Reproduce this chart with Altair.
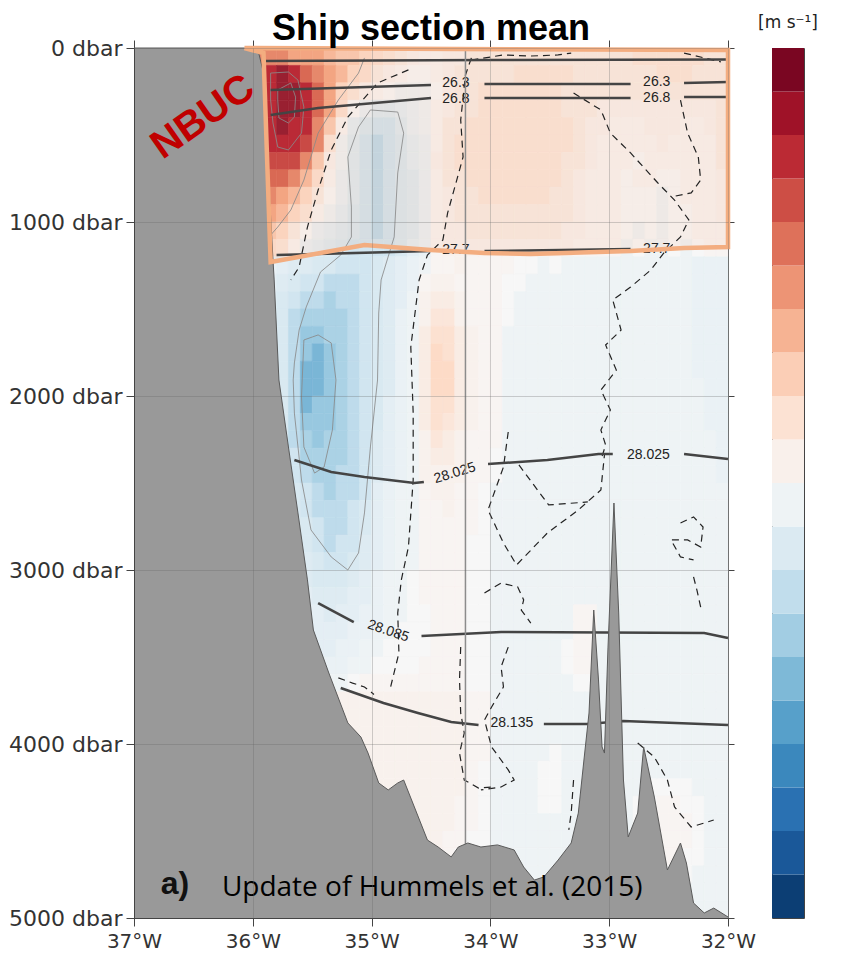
import altair as alt
import pandas as pd

# ---------------- axis / colour-bar values ----------------
lon_ticks = [-37, -36, -35, -34, -33, -32]
depth_ticks = [0, 1000, 2000, 3000, 4000, 5000]
cbar_ticks = [-0.5, -0.4, -0.3, -0.2, -0.1, 0, 0.1, 0.2, 0.3, 0.4, 0.5]
cbar_edges = [-0.5, -0.45, -0.4, -0.35, -0.3, -0.25, -0.2, -0.15, -0.1, -0.05, 0.0,
              0.05, 0.1, 0.15, 0.2, 0.25, 0.3, 0.35, 0.4, 0.45, 0.5]
# diverging palette stops (blue = negative, red = positive)
cmap_stops = [-0.5, -0.4, -0.3, -0.2, -0.1, 0.0, 0.1, 0.2, 0.3, 0.4, 0.5]
cmap_colors = ["#053061", "#2166ac", "#4393c3", "#92c5de", "#d1e5f0", "#f7f7f7",
               "#fddbc7", "#f4a582", "#d6604d", "#b2182b", "#67001f"]

# ---------------- velocity field ----------------
# grid: columns 0.1 deg wide starting at 36.0W, rows 100 dbar deep starting at 0
grid_lon_west = -36.0
grid_dlon = 0.1
grid_ddep = 100
vel_code = {
    "F": 0.5, "E": 0.45, "D": 0.4, "C": 0.35, "B": 0.3, "A": 0.25, "9": 0.2, "8": 0.16,
    "7": 0.13, "6": 0.1, "5": 0.08, "4": 0.06, "3": 0.04, "2": 0.02, "1": 0.01, "0": 0.0,
    "a": -0.025, "b": -0.035, "c": -0.05, "d": -0.065, "e": -0.08, "f": -0.1, "g": -0.13,
    "h": -0.16, "i": -0.19, "j": -0.23,
}
vel_rows = [
    "AAA9998776 5432112233 3333333333 3344444433",
    "DDEDBA9865 3210012333 3344444333 3333444333",
    "DDEEDB9642 10aaa02334 4444443333 3333333333",
    "DDEEDB950b ddcba12334 4444443332 2222222223",
    "DDEDDA71ce ffdba13344 4444444322 1112221123",
    "DDDDCA4adf gfecb13444 4444444321 1111211113",
    "CCCCA72adf gfecb23444 4444443321 1101111113",
    "BBBA851bdf gfedb13344 4444443211 1011001112",
    "AA98630bdf gfedb12334 4444433211 1000a01112",
    "998641acef gfedb12333 3333333211 1000a00112",
    "77630bcdef gfedb12233 3333332211 10a0a00111",
    "5541bcdeff ffecb12222 2222222111 1a0aa0a011",
    "bbcddeefff edcba11211 1100a0aaaa aaaaaaabbb",
    "ccdeffgggf edcb122111 100aaaaaaa aaaaaaabbb",
    "ccefgghggf edca233211 10aaaaaaaa aaaaaaabbb",
    "cceghhhhgf edba244211 10aaaaaaaa aaaaaaabbb",
    "ccegiihhgf edba355321 1aaaaaaaaa aaaaaaabbb",
    "ccegijihgf edba365321 1aaaaaaaaa aaaaaaabbb",
    "ccegjjihgf edba366321 1aaaaaaaaa aaaaaaabbb",
    "ccegjjihgf edba366321 1aaaaaaaaa aaaaaaaabb",
    "ccegjiihgf ecba355321 1aaaaaaaaa aaaaaaaabb",
    "ccegiiihgf ecba354321 1aaaaaaaaa aaaaaaaabb",
    "cceghihhgf dcba243211 1aaaaaaaaa aaaaaaaaab",
    "ccefhhhhgf dcba233211 0aaaaaaaaa aaaaaaaaab",
    "ccdfghhggf dcba222211 0aaaaaaaaa aaaaaaaaab",
    "cccefghggf cbaa122110 aaaaaaaaaa aaaaaaaaaa",
    "cccefgggfe cbaa112110 aaaaaaaaaa aaaaaaaaaa",
    "cccdefggfe cbaa111110 aaaaaaaaaa aaaaaaaaaa",
    "cccdefgffd cbaa111100 aaaaaaaaaa aaaaaaaaaa",
    "cccddeffed cbaa111100 aaaaaaaaaa aaaaaaaaaa",
    "ccccdeeedc baa0111100 aaaaaaaaaa aaaaaaaaaa",
    "cccccdddcc baa0111100 aaaaaaaaaa aaaaaaaaaa",
    "ccccccdccb baa0011100 aaaaaaa11a aaaaaaaaaa",
    "ccccccccbb aa00011100 aaaaaaa11a aaaaaaaaaa",
    "cccccccbba a000011100 aaaaaa011a aaaaaaaaaa",
    "bbbbbbbbaa 0000111100 aaaaaa011a aaaaaaaaaa",
    "aaaaaaaa01 1111111100 aaaaaaa00a aaaaaaaaaa",
    "2222222222 2222222211 aaaaaaaaaa aaaaaaaaaa",
    "2222222222 2222222211 aaaaaaaaaa aaaaaaaaaa",
    "2222222222 2222222211 aaaaaaaaaa aaaaaaaaaa",
    "2222222222 2222222211 aaaaa0aaaa aaaaaaaaaa",
    "2222222222 2222222210 aaaa00aaaa aaaaaaaaaa",
    "2222222222 2222222210 aaaa00aaaa aaa0000aaa",
    "2222222222 2222222110 aaaa00aaaa aa001100aa",
    "2222222222 2222222110 aaaaaaaaaa aa011110aa",
    "2222222222 2222221100 aaaaaaaaaa aa011110aa",
    "2222222222 2222211000 aaaaaaaaaa aa001100aa",
    "1111111111 1111110000 aaaaaaaaaa aaa0000aaa",
    "1111111111 1111110000 aaaaaaaaaa aaaaaaaaaa",
    "1111111111 1111110000 aaaaaaaaaa aaaaaaaaaa",
]

# ---------------- bathymetry (lon, bottom pressure) ----------------
land_lon = [-37.0, -36.07, -35.95, -35.91, -35.87, -35.83, -35.82, -35.78, -35.70, -35.62,
            -35.54, -35.49, -35.36, -35.20, -35.09, -35.03, -34.94, -34.86, -34.78, -34.73,
            -34.64, -34.53, -34.44, -34.33, -34.27, -34.19, -34.08, -33.94, -33.80, -33.72,
            -33.63, -33.55, -33.43, -33.32, -33.26, -33.21, -33.17, -33.13, -33.09, -33.06,
            -33.04, -33.01, -32.96, -32.92, -32.88, -32.84, -32.76, -32.71, -32.62, -32.51,
            -32.40, -32.35, -32.29, -32.20, -32.12, -32.0]
land_dep = [0, 0, 29, 144, 720, 1218, 1333, 1908, 2293, 2672,
            3057, 3345, 3592, 3879, 3960, 4052, 4224, 4264, 4224, 4207,
            4362, 4552, 4592, 4649, 4592, 4569, 4592, 4580, 4609, 4707,
            4782, 4764, 4667, 4569, 4397, 4075, 3822, 3230, 3632, 4017,
            4052, 3443, 2615, 3247, 4207, 4534, 4397, 4017, 4305, 4724,
            4569, 4684, 4914, 4971, 4943, 4994]

# ---------------- isopycnals (solid dark lines, split at labels) ----------------
isopycnals = {
    "s0": [(-35.91, 75), (-34.0, 69), (-32.0, 66)],
    "26.3a": [(-35.85, 241), (-34.50, 213)],
    "26.3b": [(-34.05, 207), (-32.82, 207)],
    "26.3c": [(-32.37, 201), (-32.00, 195)],
    "26.8a": [(-35.85, 385), (-35.45, 345), (-34.50, 287)],
    "26.8b": [(-34.05, 287), (-32.82, 287)],
    "26.8c": [(-32.37, 282), (-32.00, 282)],
    "27.7a": [(-35.80, 1190), (-34.50, 1167)],
    "27.7b": [(-34.05, 1167), (-32.82, 1155)],
    "27.7c": [(-32.37, 1149), (-32.00, 1144)],
    "28.025a": [(-35.65, 2368), (-35.34, 2437), (-35.06, 2466), (-34.64, 2500), (-34.56, 2494)],
    "28.025b": [(-34.02, 2391), (-33.52, 2368), (-33.09, 2333), (-32.97, 2333)],
    "28.025c": [(-32.37, 2333), (-32.00, 2362)],
    "28.085a": [(-35.45, 3190), (-35.15, 3299)],
    "28.085b": [(-34.58, 3379), (-33.91, 3356), (-32.20, 3362), (-32.00, 3391)],
    "28.135a": [(-35.26, 3678), (-34.90, 3764), (-34.61, 3822), (-34.33, 3874), (-34.10, 3891)],
    "28.135b": [(-33.55, 3885), (-33.18, 3885), (-32.88, 3868), (-32.00, 3891)],
}
iso_label_text = ["26.3", "26.8", "26.3", "26.8", "27.7", "27.7", "28.025", "28.025", "28.085", "28.135"]
iso_label_lon = [-34.29, -34.29, -32.60, -32.60, -34.29, -32.60, -34.30, -32.67, -34.86, -33.82]
iso_label_dep = [203, 295, 193, 290, 1161, 1155, 2443, 2339, 3351, 3879]
iso_label_angle = [0, 0, 0, 0, 0, 0, 343, 0, 19, 0]

# ---------------- zero-velocity contours (dashed) ----------------
zero_contours = {
    "z1": [(-34.69, 126), (-34.95, 201), (-35.20, 397), (-35.34, 586), (-35.45, 816),
           (-35.54, 1029), (-35.61, 1259), (-35.68, 1333)],
    "z2": [(-34.16, 57), (-34.21, 155), (-34.25, 414), (-34.23, 626), (-34.29, 776),
           (-34.36, 948), (-34.40, 1103), (-34.53, 1190), (-34.60, 1333), (-34.67, 1718),
           (-34.65, 2098), (-34.65, 2483), (-34.69, 2868), (-34.75, 3057), (-34.78, 3247),
           (-34.77, 3477), (-34.84, 3672)],
    "ztop": [(-34.16, 69), (-33.89, 40), (-33.66, 46), (-33.43, 40), (-33.32, 29)],
    "ztr": [(-32.37, 29), (-32.06, 80)],
    "z3": [(-33.30, 259), (-33.07, 356), (-32.99, 489), (-32.82, 603), (-32.59, 776),
           (-32.45, 874), (-32.33, 988), (-32.40, 1086), (-32.54, 1178), (-32.65, 1276),
           (-32.82, 1374), (-32.97, 1448), (-32.90, 1621), (-33.03, 1707), (-32.94, 1851),
           (-33.07, 1966), (-32.99, 2080), (-33.07, 2195), (-33.03, 2282), (-33.07, 2368)],
    "z4": [(-32.40, 299), (-32.34, 489), (-32.25, 626), (-32.23, 759), (-32.31, 833), (-32.48, 856)],
    "z5": [(-33.85, 2207), (-33.89, 2408), (-34.02, 2655), (-33.89, 2845), (-33.78, 2971),
           (-33.52, 2787), (-33.26, 2655), (-33.07, 2540), (-33.04, 2339)],
    "z5i": [(-33.76, 2396), (-33.51, 2626), (-33.18, 2609)],
    "z6": [(-34.05, 3132), (-33.91, 3075), (-33.77, 3098), (-33.72, 3172), (-33.74, 3230), (-33.66, 3305)],
    "z7": [(-33.85, 3443), (-33.91, 3557), (-33.89, 3672), (-33.99, 3787), (-34.05, 3862),
           (-33.99, 4017), (-33.85, 4149), (-33.80, 4207), (-33.91, 4247), (-34.08, 4264)],
    "z8": [(-34.25, 3443), (-34.26, 3632), (-34.25, 3822), (-34.22, 3937), (-34.26, 4052),
           (-34.22, 4207), (-34.10, 4253), (-33.99, 4247)],
    "z9": [(-32.40, 2730), (-32.29, 2695), (-32.21, 2753), (-32.23, 2868), (-32.34, 2827),
           (-32.48, 2827), (-32.40, 2925), (-32.29, 2942)],
    "z10": [(-32.29, 3040), (-32.26, 3120), (-32.23, 3213)],
    "z11": [(-32.76, 3994), (-32.62, 4075), (-32.51, 4207), (-32.45, 4362), (-32.31, 4477), (-32.12, 4437)],
    "z12": [(-33.30, 4207), (-33.32, 4397), (-33.34, 4494)],
    "z13": [(-35.28, 3620), (-35.16, 3650), (-35.06, 3672), (-34.98, 3715)],
}

# ---------------- thin grey velocity contours ----------------
grey_contours = {
    "g1": [(-35.06, 57), (-35.11, 144), (-35.28, 299), (-35.45, 489), (-35.57, 759),
           (-35.68, 931), (-35.79, 1029), (-35.85, 1075)],
    "g2": [(-35.85, 144), (-35.70, 138), (-35.62, 184), (-35.57, 339), (-35.59, 489),
           (-35.70, 586), (-35.79, 569), (-35.83, 431), (-35.85, 299), (-35.85, 144)],
    "g3": [(-35.79, 241), (-35.68, 201), (-35.64, 282), (-35.65, 397), (-35.70, 431),
           (-35.78, 402), (-35.79, 299), (-35.79, 241)],
    "g4": [(-35.11, 454), (-35.01, 356), (-34.78, 368), (-34.73, 489), (-34.78, 718),
           (-34.81, 1086), (-34.92, 1333), (-34.94, 1523), (-34.95, 1908), (-35.01, 2293),
           (-35.06, 2672), (-35.11, 2902), (-35.20, 3000), (-35.34, 2925), (-35.51, 2770),
           (-35.59, 2483), (-35.65, 2098), (-35.66, 1908), (-35.65, 1810), (-35.61, 1621),
           (-35.55, 1488), (-35.43, 1287), (-35.26, 1190), (-35.17, 1086), (-35.17, 914),
           (-35.20, 626), (-35.11, 454)],
    "g5": [(-35.57, 1678), (-35.45, 1649), (-35.34, 1695), (-35.30, 1908), (-35.33, 2195),
           (-35.40, 2408), (-35.48, 2443), (-35.57, 2293), (-35.59, 2006), (-35.57, 1678)],
}

# ---------------- NBUC box ----------------
box_outline = [(-36.07, 0), (-35.91, 29), (-35.85, 1230), (-35.06, 1132), (-34.50, 1161),
               (-34.05, 1178), (-33.66, 1184), (-32.82, 1167), (-32.37, 1149), (-32.00, 1144),
               (-32.00, 12), (-36.07, 0)]
box_fill_lon = [-35.91, -35.85, -35.06, -34.50, -34.05, -33.66, -32.82, -32.37, -32.00]
box_fill_top = [5, 5, 7, 8, 9, 9, 10, 11, 12]
box_fill_bot = [29, 1230, 1132, 1161, 1178, 1184, 1167, 1149, 1144]

section_line_lon = -34.21

# ---------------- texts ----------------
title_text = "Ship section mean"
unit_text = "[m s\u207b\u00b9]"
annot_text = ["NBUC", "a)", "Update of Hummels et al. (2015)"]

# ======================================================================
assert len(land_lon) == len(land_dep)
cells = []
for i, row in enumerate(vel_rows):
    s = row.replace(" ", "")
    assert len(s) == 40, (i, len(s))
    for j, ch in enumerate(s):
        lon0 = grid_lon_west + j * grid_dlon
        cells.append({"lon0": lon0, "lon1": lon0 + grid_dlon,
                      "d0": i * grid_ddep, "d1": (i + 1) * grid_ddep, "v": vel_code[ch]})
cells_df = pd.DataFrame(cells)


def seg_frame(segs):
    rows = []
    for name, pts in segs.items():
        for k, (lo, de) in enumerate(pts):
            rows.append({"seg": name, "k": k, "lon": lo, "dep": de})
    return pd.DataFrame(rows)


xscale = alt.Scale(domain=[-37, -32], nice=False, zero=False)
yscale = alt.Scale(domain=[0, 5000], nice=False, zero=False, reverse=True)
color_scale = alt.Scale(domain=cmap_stops, range=cmap_colors, interpolate="rgb", clamp=True)


def X(f):
    return alt.X(f, type="quantitative", scale=xscale, axis=None)


def Y(f):
    return alt.Y(f, type="quantitative", scale=yscale, axis=None)


axis_common = dict(title=None, tickSize=8, tickColor="#444", domainColor="#444",
                   labelFont="DejaVu Sans", labelColor="#333",
                   grid=True, gridColor="#666", gridOpacity=0.3, zindex=1,
                   labelOverlap=False)
x_axis = alt.Axis(values=lon_ticks, labelExpr="abs(datum.value) + '°W'", labelPadding=5,
                  labelFontSize=20, labelFlush=False, **axis_common)
y_axis = alt.Axis(values=depth_ticks, labelExpr="datum.value + ' dbar'", labelPadding=4,
                  labelFontSize=22, **axis_common)

heat = alt.Chart(cells_df).mark_rect(strokeWidth=0.6).encode(
    x=alt.X("lon0:Q", scale=xscale, axis=x_axis),
    x2="lon1:Q",
    y=alt.Y("d0:Q", scale=yscale, axis=y_axis),
    y2="d1:Q",
    color=alt.Color("v:Q", scale=color_scale, legend=None),
    stroke=alt.Stroke("v:Q", scale=color_scale, legend=None),
)

box_fill_df = pd.DataFrame({"lon": box_fill_lon, "top": box_fill_top, "bot": box_fill_bot})
box_fill = alt.Chart(box_fill_df).mark_area(color="#F3AD80", opacity=0.13).encode(
    x=X("lon"), y=Y("top"), y2="bot:Q")

grey = alt.Chart(seg_frame(grey_contours)).mark_line(
    color="#8a8a8a", strokeWidth=1, opacity=0.85).encode(
    x=X("lon"), y=Y("dep"), detail="seg:N", order="k:Q")

dashed = alt.Chart(seg_frame(zero_contours)).mark_line(
    color="#222", strokeWidth=1.2, strokeDash=[7, 5]).encode(
    x=X("lon"), y=Y("dep"), detail="seg:N", order="k:Q")

iso = alt.Chart(seg_frame(isopycnals)).mark_line(
    color="#444", strokeWidth=2.6).encode(
    x=X("lon"), y=Y("dep"), detail="seg:N", order="k:Q")

iso_lab_df = pd.DataFrame({"t": iso_label_text, "lon": iso_label_lon,
                           "dep": iso_label_dep, "ang": iso_label_angle})
iso_lab = alt.Chart(iso_lab_df).mark_text(
    font="Liberation Sans", fontSize=14, color="#222", align="center", baseline="middle").encode(
    x=X("lon"), y=Y("dep"), text="t:N", angle=alt.Angle("ang:Q", scale=None))

rule_df = pd.DataFrame({"lon": [section_line_lon], "d0": [0], "d1": [5000]})
top_axis = alt.Axis(orient="top", values=lon_ticks, labels=False, ticks=True, tickSize=8,
                    tickColor="#444", domain=False, grid=False, title=None)
right_axis = alt.Axis(orient="right", values=depth_ticks, labels=False, ticks=True, tickSize=6,
                      tickColor="#444", domain=False, grid=False, title=None)
rule = alt.Chart(rule_df).mark_rule(color="#8c8c8c", strokeWidth=1.5).encode(
    x=alt.X("lon:Q", scale=xscale, axis=top_axis),
    y=alt.Y("d0:Q", scale=yscale, axis=right_axis),
    y2="d1:Q")

land_df = pd.DataFrame({"lon": land_lon, "dep": land_dep, "bottom": [5000] * len(land_lon)})
land = alt.Chart(land_df).mark_area(color="#999999").encode(
    x=X("lon"), y=Y("dep"), y2="bottom:Q")
land_edge = alt.Chart(land_df).mark_line(color="#5a5a5a", strokeWidth=1).encode(
    x=X("lon"), y=Y("dep"))

box_df = pd.DataFrame([{"k": k, "lon": a, "dep": b} for k, (a, b) in enumerate(box_outline)])
box_line = alt.Chart(box_df).mark_line(color="#F3AD80", strokeWidth=4.5).encode(
    x=X("lon"), y=Y("dep"), order="k:Q")

nbuc = alt.Chart(pd.DataFrame({"t": [annot_text[0]], "lon": [-36.42], "dep": [397]})).mark_text(
    font="Liberation Sans", fontWeight="bold", fontSize=40, color="#C00000", angle=325,
    align="center", baseline="middle").encode(x=X("lon"), y=Y("dep"), text="t:N")
alab = alt.Chart(pd.DataFrame({"t": [annot_text[1]], "lon": [-36.655], "dep": [4805]})).mark_text(
    font="Liberation Sans", fontWeight="bold", fontSize=32, color="#111",
    align="center", baseline="middle").encode(x=X("lon"), y=Y("dep"), text="t:N")
upd = alt.Chart(pd.DataFrame({"t": [annot_text[2]], "lon": [-34.49], "dep": [4828]})).mark_text(
    font="Open Sans", fontSize=28, color="#000",
    align="center", baseline="middle").encode(x=X("lon"), y=Y("dep"), text="t:N")
title = alt.Chart(pd.DataFrame({"t": [title_text], "lon": [-34.5], "dep": [0]})).mark_text(
    font="Liberation Sans", fontWeight="bold", fontSize=36, color="#000", dy=-8,
    align="center", baseline="alphabetic").encode(x=X("lon"), y=Y("dep"), text="t:N")

main = alt.layer(heat, box_fill, grey, dashed, iso, iso_lab, rule, land, land_edge,
                 box_line, nbuc, alab, upd, title).resolve_axis(
    x="independent", y="independent").properties(width=594, height=870)

# ---------------- colour bar ----------------
cb_df = pd.DataFrame({"lo": cbar_edges[:-1], "hi": cbar_edges[1:]})
cb_df["mid"] = (cb_df["lo"] + cb_df["hi"]) / 2
cb_df["x0"] = 0
cb_df["x1"] = 1
cb_y = alt.Scale(domain=[-0.5, 0.5], nice=False, zero=False)
cb_x = alt.Scale(domain=[0, 1], nice=False, zero=False)
cb_rect = alt.Chart(cb_df).mark_rect().encode(
    x=alt.X("x0:Q", scale=cb_x, axis=None),
    x2="x1:Q",
    y=alt.Y("lo:Q", scale=cb_y, axis=alt.Axis(
        orient="right", values=cbar_ticks, title=None, ticks=False, domain=False, grid=False,
        labelFont="DejaVu Sans", labelFontSize=20, labelColor="#333", labelPadding=5,
        labelOverlap=False,
        labelExpr="datum.value == 0 ? '0' : (datum.value < 0 ? '-' + format(-datum.value, '.1f') : format(datum.value, '.1f'))")),
    y2="hi:Q",
    color=alt.Color("mid:Q", scale=color_scale, legend=None),
)
cb_unit = alt.Chart(pd.DataFrame({"t": [unit_text], "x": [0.5], "y": [0.5]})).mark_text(
    font="DejaVu Sans", fontSize=17, color="#222", dy=-20, align="center",
    baseline="alphabetic").encode(
    x=alt.X("x:Q", scale=cb_x, axis=None), y=alt.Y("y:Q", scale=cb_y, axis=None), text="t:N")
cbar = alt.layer(cb_rect, cb_unit).properties(width=32, height=870)

chart = alt.hconcat(main, cbar, spacing=44, bounds="flush").properties(
    padding={"left": 0, "top": 2, "right": 5, "bottom": 5}
).configure_view(stroke="#444", strokeWidth=1)

chart.save("out.html", embed_options={"renderer": "svg", "actions": False})
